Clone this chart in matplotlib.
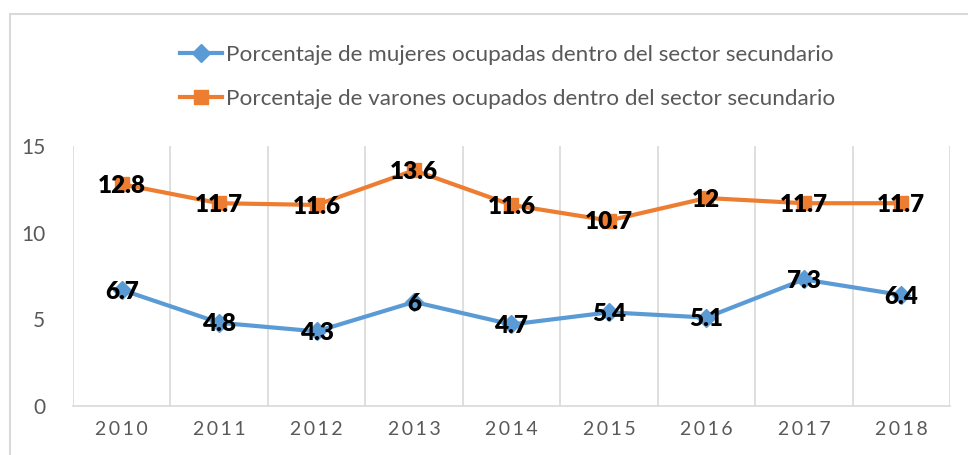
import numpy as np
import matplotlib.pyplot as plt
from matplotlib.patches import Rectangle

# data
years = ['2010', '2011', '2012', '2013', '2014', '2015', '2016', '2017', '2018']
mujeres = [6.7, 4.8, 4.3, 6, 4.7, 5.4, 5.1, 7.3, 6.4]
varones = [12.8, 11.7, 11.6, 13.6, 11.6, 10.7, 12, 11.7, 11.7]
lab_muj = 'Porcentaje de mujeres ocupadas dentro del sector secundario'
lab_var = 'Porcentaje de varones ocupados dentro del sector secundario'

plt.rcParams['font.family'] = ['Lato', 'DejaVu Sans']
grey = '#595959'
blue = '#5B9BD5'
orange = '#ED7D31'

fig = plt.figure(figsize=(9.68, 4.55), dpi=100)
ax = fig.add_axes([0.0754, 0.108, 0.906, 0.571])

x = np.arange(len(years))
ax.plot(x, mujeres, color=blue, linewidth=3, marker='D', markersize=9, label=lab_muj)
ax.plot(x, varones, color=orange, linewidth=3, marker='s', markersize=10, label=lab_var)

for xi, v in zip(x, mujeres):
    ax.text(xi, v - 0.1, f'{v:g}', ha='center', va='center', fontsize=17.5, fontweight='heavy', color='black')
for xi, v in zip(x, varones):
    ax.text(xi, v - 0.1, f'{v:g}', ha='center', va='center', fontsize=17.5, fontweight='heavy', color='black')

ax.set_xlim(-0.5, len(years) - 0.5)
ax.set_ylim(0, 15)
ax.set_yticks([0, 5, 10, 15])
ax.set_xticks(x)
ax.set_xticklabels(['\u2009'.join(y) for y in years])
ax.tick_params(axis='both', length=0, labelsize=14, colors=grey)
ax.tick_params(axis='y', pad=20, labelsize=15)
ax.tick_params(axis='x', pad=11)

# vertical gridlines between categories
for b in np.arange(-0.5, len(years), 1.0):
    ax.axvline(b, color='#d9d9d9', linewidth=1.2, zorder=0)
for s in ['top', 'right', 'left']:
    ax.spines[s].set_visible(False)
ax.spines['bottom'].set_color('#d9d9d9')
ax.spines['bottom'].set_linewidth(1.2)

fig.legend(loc='upper center', bbox_to_anchor=(0.524, 0.945), frameon=False,
           fontsize=16.2, labelcolor=grey, handlelength=1.9, handletextpad=0.15,
           labelspacing=1.05)

# outer chart frame
fig.patches.append(Rectangle((10 / 968, -0.1), 1.2, 1 - 14 / 455 + 0.1,
                             transform=fig.transFigure, fill=False,
                             edgecolor='#d9d9d9', linewidth=1.5))

fig.savefig('out.png', dpi=100)
